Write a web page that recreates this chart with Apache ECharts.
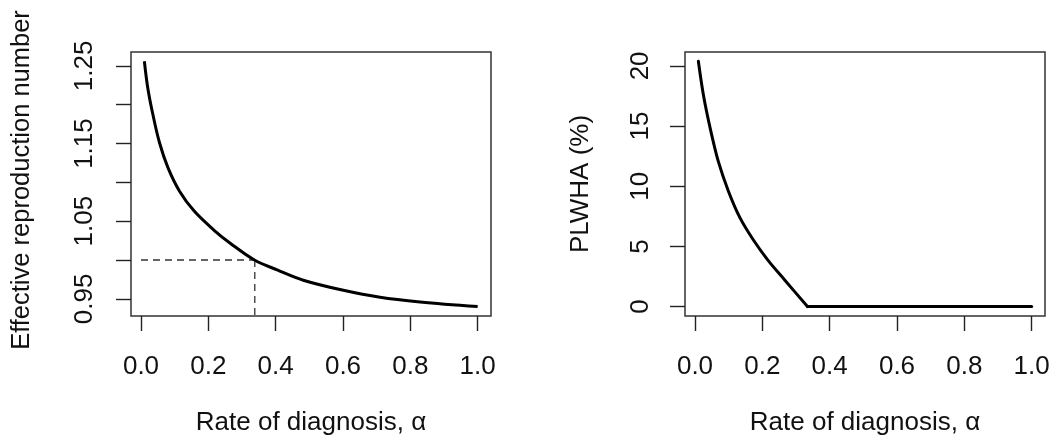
<!DOCTYPE html>
<html>
<head>
<meta charset="utf-8">
<script src="https://cdn.jsdelivr.net/npm/echarts@6/dist/echarts.min.js"></script>
<style>
html,body{margin:0;padding:0;background:#fff;}
#c{width:1054px;height:441px;}
</style>
</head>
<body>
<div id="c"></div>
<script>
// ---- data ----
var alphaLeft = [0.01, 0.02, 0.035, 0.055, 0.08, 0.114, 0.158, 0.218, 0.267, 0.337, 0.406, 0.482, 0.601, 0.71, 0.829, 1.0];
var reffLeft  = [1.256, 1.222, 1.188, 1.151, 1.119, 1.089, 1.063, 1.038, 1.021, 1.000, 0.987, 0.974, 0.961, 0.952, 0.946, 0.940];
var alphaRightCurve = [0.01, 0.025, 0.045, 0.069, 0.099, 0.133, 0.173, 0.217, 0.267, 0.334];
var plwhaRightCurve = [20.39, 17.58, 14.83, 12.08, 9.61, 7.41, 5.55, 3.84, 2.19, 0];
var alphaRightFlat = [0.334, 1.0];
var plwhaRightFlat = [0, 0];
var thresholdAlpha = 0.338;
var thresholdReff = 1.0;
var xTicks = [0, 0.2, 0.4, 0.6, 0.8, 1.0];
var leftYTicks = [0.95, 1.00, 1.05, 1.10, 1.15, 1.20, 1.25];
var leftYLabels = [0.95, 1.05, 1.15, 1.25];
var rightYTicks = [0, 5, 10, 15, 20];
var xTitle = 'Rate of diagnosis, \u03B1';
var leftYTitle = 'Effective reproduction number';
var rightYTitle = 'PLWHA (%)';

function pairs(xs, ys){ return xs.map(function(x,i){ return [x, ys[i]]; }); }

var FONT = '"Liberation Sans", Arial, sans-serif';
var INK = '#222';
var FS = 26;

function xAxisDef(gi){
  return {
    type: 'value', gridIndex: gi, min: -0.0297, max: 1.0396,
    axisLine: {show: false, onZero: false},
    splitLine: {show: false},
    axisTick: {show: true, inside: false, length: 15, customValues: xTicks, lineStyle: {color: INK, width: 1.4}},
    axisLabel: {show: true, customValues: xTicks, margin: 38, color: '#111', fontFamily: FONT, fontSize: FS,
      formatter: function(v){ return v.toFixed(1); }},
    name: xTitle, nameLocation: 'middle', nameGap: 94,
    nameTextStyle: {color: '#111', fontFamily: FONT, fontSize: FS}
  };
}

var option = {
  animation: false,
  backgroundColor: '#fff',
  grid: [
    {left: 131, top: 52, width: 360, height: 266, show: true, borderColor: '#333', borderWidth: 1.5, backgroundColor: 'transparent'},
    {left: 685, top: 52, width: 360, height: 266, show: true, borderColor: '#333', borderWidth: 1.5, backgroundColor: 'transparent'}
  ],
  xAxis: [xAxisDef(0), xAxisDef(1)],
  yAxis: [
    {
      type: 'value', gridIndex: 0, min: 0.9279, max: 1.2679,
      axisLine: {show: false, onZero: false}, splitLine: {show: false},
      axisTick: {show: true, inside: false, length: 15, customValues: leftYTicks, lineStyle: {color: INK, width: 1.4}},
      axisLabel: {show: true, customValues: leftYLabels, rotate: 90, margin: 33, color: '#111', fontFamily: FONT, fontSize: FS,
        formatter: function(v){ return v.toFixed(2); }},
      name: leftYTitle, nameLocation: 'middle', nameGap: 96, nameRotate: 90,
      nameTextStyle: {color: '#111', fontFamily: FONT, fontSize: 25.5, padding: [0, 0, 0, 8]}
    },
    {
      type: 'value', gridIndex: 1, min: -0.784, max: 21.155,
      axisLine: {show: false, onZero: false}, splitLine: {show: false},
      axisTick: {show: true, inside: false, length: 15, customValues: rightYTicks, lineStyle: {color: INK, width: 1.4}},
      axisLabel: {show: true, customValues: rightYTicks, rotate: 90, margin: 31, color: '#111', fontFamily: FONT, fontSize: FS,
        formatter: function(v){ return String(v); }},
      name: rightYTitle, nameLocation: 'middle', nameGap: 91, nameRotate: 90,
      nameTextStyle: {color: '#111', fontFamily: FONT, fontSize: FS}
    }
  ],
  series: [
    {
      type: 'line', xAxisIndex: 0, yAxisIndex: 0, data: pairs(alphaLeft, reffLeft),
      showSymbol: false, smooth: 0.35, clip: true,
      lineStyle: {color: '#000', width: 3}, z: 5
    },
    {
      type: 'line', xAxisIndex: 0, yAxisIndex: 0,
      data: [[0, thresholdReff], [thresholdAlpha, thresholdReff]],
      showSymbol: false, clip: true,
      lineStyle: {color: '#333', width: 1.3, type: [7, 5]}, z: 3
    },
    {
      type: 'line', xAxisIndex: 0, yAxisIndex: 0,
      data: [[thresholdAlpha, thresholdReff], [thresholdAlpha, 0.9]],
      showSymbol: false, clip: true,
      lineStyle: {color: '#333', width: 1.3, type: [7, 5]}, z: 3
    },
    {
      type: 'line', xAxisIndex: 1, yAxisIndex: 1, data: pairs(alphaRightCurve, plwhaRightCurve),
      showSymbol: false, smooth: 0.3, clip: true,
      lineStyle: {color: '#000', width: 3, cap: 'round', join: 'round'}, z: 5
    },
    {
      type: 'line', xAxisIndex: 1, yAxisIndex: 1, data: pairs(alphaRightFlat, plwhaRightFlat),
      showSymbol: false, clip: true,
      lineStyle: {color: '#000', width: 3, cap: 'round'}, z: 5
    }
  ]
};

var chart = echarts.init(document.getElementById('c'), null, {renderer: 'canvas'});
chart.setOption(option);
</script>
</body>
</html>
